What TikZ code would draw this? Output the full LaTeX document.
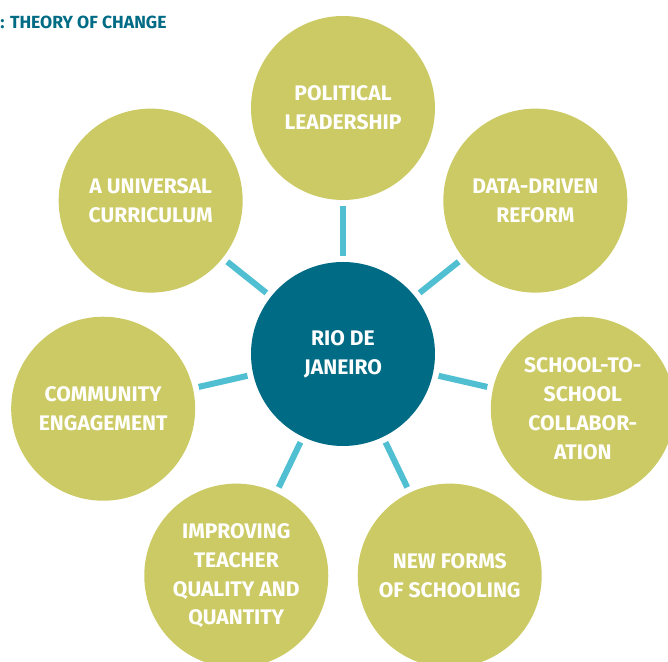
\documentclass[tikz,border=0pt]{standalone}
\usepackage{fontspec}
\setmainfont{Fira Sans}
\usetikzlibrary{positioning}

\definecolor{olive}{RGB}{204,202,100}
\definecolor{deepteal}{RGB}{0,107,133}
\definecolor{skyline}{RGB}{79,191,209}

\begin{document}
\begin{tikzpicture}[
  font=\bfseries,
  hub/.style={circle, fill=deepteal, text=white, minimum size=4.6cm, inner sep=0pt, outer sep=0pt,
    align=center, font=\bfseries\fontsize{15}{20.6}\selectfont},
  topic/.style={hub, fill=olive},
  link/.style={skyline, line width=4.3pt, shorten <=0.15cm, shorten >=0.15cm},
  title/.style={font=\bfseries\fontsize{12.5}{15}\selectfont, text=deepteal, anchor=west, inner sep=0pt}
]

% Page frame: the figure is cropped on the right and at the bottom.
\useasboundingbox (-8.575,-7.7) rectangle (8.125,8.85);
\clip (-8.575,-7.7) rectangle (8.125,8.85);

\node[title] (heading) at (-8.575,8.3) {: THEORY OF CHANGE};

% Centre of the wheel.
\node[hub] (rio) at (0,0) {RIO DE\\JANEIRO};

% Seven spokes, one every 360/7 degrees, clockwise from the top.
\foreach \i/\txt in {
  1/{POLITICAL\\LEADERSHIP},
  2/{DATA-DRIVEN\\REFORM},
  3/{SCHOOL-TO-\\SCHOOL\\COLLABOR-\\ATION},
  4/{NEW FORMS\\OF SCHOOLING},
  5/{IMPROVING\\TEACHER\\QUALITY AND\\QUANTITY},
  6/{COMMUNITY\\ENGAGEMENT},
  7/{A UNIVERSAL\\CURRICULUM}}
{
  \node[topic] (lever\i) at ({90-(\i-1)*360/7}:6.15) {\txt};
  \draw[link] (rio) -- (lever\i);
}

\end{tikzpicture}
\end{document}
